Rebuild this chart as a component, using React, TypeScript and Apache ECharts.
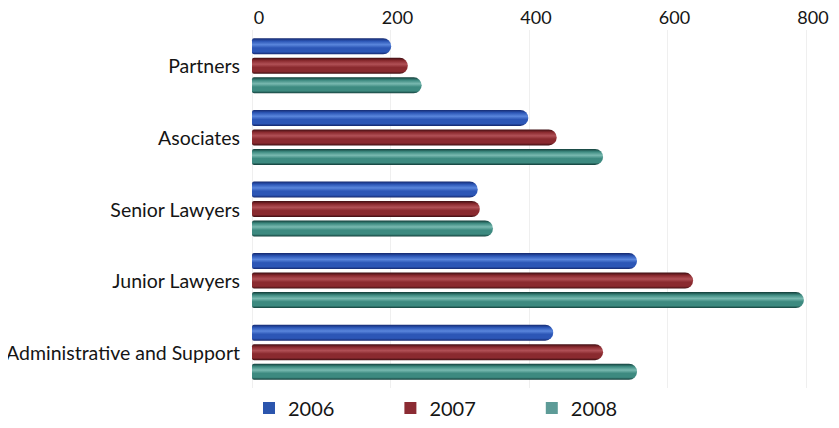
import React, { useEffect, useRef } from "react";
import * as echarts from "echarts";

const categories = ["Partners", "Asociates", "Senior Lawyers", "Junior Lawyers", "Administrative and Support"];
const years = ["2006", "2007", "2008"];
const values2006 = [201, 399, 326, 556, 435];
const values2007 = [225, 440, 329, 637, 507];
const values2008 = [245, 507, 348, 797, 556];
const xTicks = [0, 200, 400, 600, 800];

// base / dark edge / highlight for the tube-like bars
const palette = [
  { base: "#2c56b6", dark: "#14286e", light: "#5a86dc", legend: "#2b55ad" },
  { base: "#8a2a2f", dark: "#3e0e12", light: "#b05056", legend: "#8b2b33" },
  { base: "#3d8a80", dark: "#123d39", light: "#79b9b0", legend: "#5d9b97" },
];

function tube(c: { base: string; dark: string; light: string }) {
  return new echarts.graphic.LinearGradient(0, 0, 0, 1, [
    { offset: 0, color: c.dark },
    { offset: 0.18, color: c.base },
    { offset: 0.4, color: c.light },
    { offset: 0.6, color: c.base },
    { offset: 0.85, color: c.base },
    { offset: 1, color: c.dark },
  ]);
}

export default function App() {
  const ref = useRef<HTMLDivElement>(null);
  useEffect(() => {
    if (!ref.current) return;
    const chart = echarts.init(ref.current, undefined, { renderer: "svg" });
    const font = "Lato, 'Open Sans', sans-serif";
    const seriesData = [values2006, values2007, values2008];
    chart.setOption({
      animation: false,
      backgroundColor: "#ffffff",
      textStyle: { fontFamily: font },
      grid: { left: 252, right: 33, top: 30, height: 358 },
      legend: {
        left: 258,
        top: 393,
        itemWidth: 12,
        itemHeight: 12,
        itemGap: 70,
        icon: "rect",
        textStyle: { fontSize: 20, color: "#151515", fontFamily: font, padding: [0, 0, 0, 8] },
        data: years.map((y, i) => ({ name: y, itemStyle: { color: palette[i].legend } })),
      },
      xAxis: {
        type: "value",
        position: "top",
        min: xTicks[0],
        max: xTicks[xTicks.length - 1],
        interval: 200,
        axisLine: { show: false },
        axisTick: { show: false },
        axisLabel: { fontSize: 18, color: "#151515", margin: 4, fontFamily: font, padding: [0, 0, 0, 14] },
        splitLine: { show: true, lineStyle: { color: "#efefef", width: 1 } },
      },
      yAxis: {
        type: "category",
        data: categories,
        inverse: true,
        axisLine: { show: false },
        axisTick: { show: false },
        axisLabel: { fontSize: 19.5, color: "#151515", margin: 12, fontFamily: font },
      },
      series: years.map((y, i) => ({
        name: y,
        type: "bar",
        data: seriesData[i],
        barWidth: 16,
        barGap: "22%",
        itemStyle: {
          color: tube(palette[i]),
          borderRadius: [2, 8, 8, 2],
        },
      })),
    });
    return () => chart.dispose();
  }, []);
  return <div ref={ref} style={{ width: 839, height: 428, margin: -8 }} />;
}
